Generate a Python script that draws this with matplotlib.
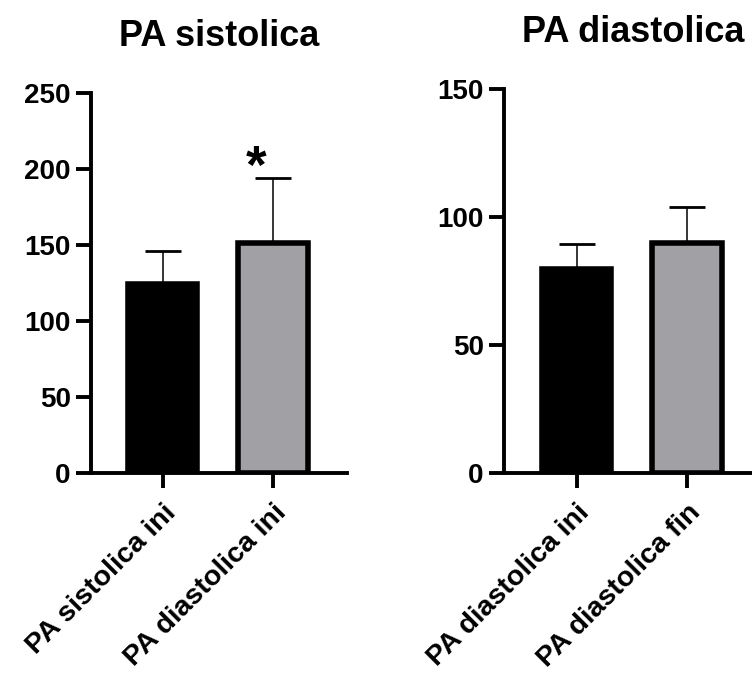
import matplotlib.pyplot as plt

plt.rcParams["font.family"] = ["Liberation Sans", "DejaVu Sans"]
plt.rcParams["font.weight"] = "bold"

# Sistolica panel
sis_labels = ["PA sistolica ini", "PA diastolica ini"]
sis_means = [124.5, 151]
sis_sd = [21.5, 43]

# Diastolica panel
dia_labels = ["PA diastolica ini", "PA diastolica fin"]
dia_means = [79.5, 90]
dia_sd = [10, 14]

bar_colors = ["black", "#a1a0a5"]


def draw_panel(ax, labels, means, sd, ymax, step, title):
    x = range(len(labels))
    ax.bar(x, means, width=0.63, color=bar_colors, edgecolor="black",
           linewidth=4, zorder=2)
    ax.errorbar(x, means, yerr=[[0] * len(sd), sd], fmt="none", ecolor="black",
                elinewidth=1.1, capsize=13, capthick=2, zorder=1)
    ax.set_ylim(0, ymax)
    ax.set_yticks(range(0, ymax + 1, step))
    ax.set_xticks(list(x))
    ax.set_xticklabels(labels, rotation=45, ha="right", va="top",
                       rotation_mode="anchor", fontsize=20.5, fontweight="bold")
    for lab in ax.get_yticklabels():
        lab.set_fontsize(20)
        lab.set_fontweight("bold")
    ax.spines["top"].set_visible(False)
    ax.spines["right"].set_visible(False)
    ax.spines["left"].set_linewidth(2.8)
    ax.spines["bottom"].set_linewidth(2.8)
    ax.tick_params(axis="y", width=2.8, length=10.5, pad=4)
    ax.tick_params(axis="x", width=2.8, length=11, pad=8)
    ax.set_title(title, fontsize=26, fontweight="bold", pad=34)


fig = plt.figure(figsize=(7.52, 6.73), dpi=100)
ax1 = fig.add_axes([0.121, 0.297, 0.340, 0.565])
ax2 = fig.add_axes([0.670, 0.297, 0.330, 0.571])

draw_panel(ax1, sis_labels, sis_means, sis_sd, 250, 50, "PA sistolica")
ax1.set_xlim(-0.65, 1.67)
ax1.text(0.85, 200, "*", ha="center", va="center", fontsize=38, fontweight="bold")

draw_panel(ax2, dia_labels, dia_means, dia_sd, 150, 50, "PA diastolica")
ax2.set_xlim(-0.66, 1.59)
ax2.title.set_position((0.52, 1.0))

fig.savefig("out.png", dpi=100)
